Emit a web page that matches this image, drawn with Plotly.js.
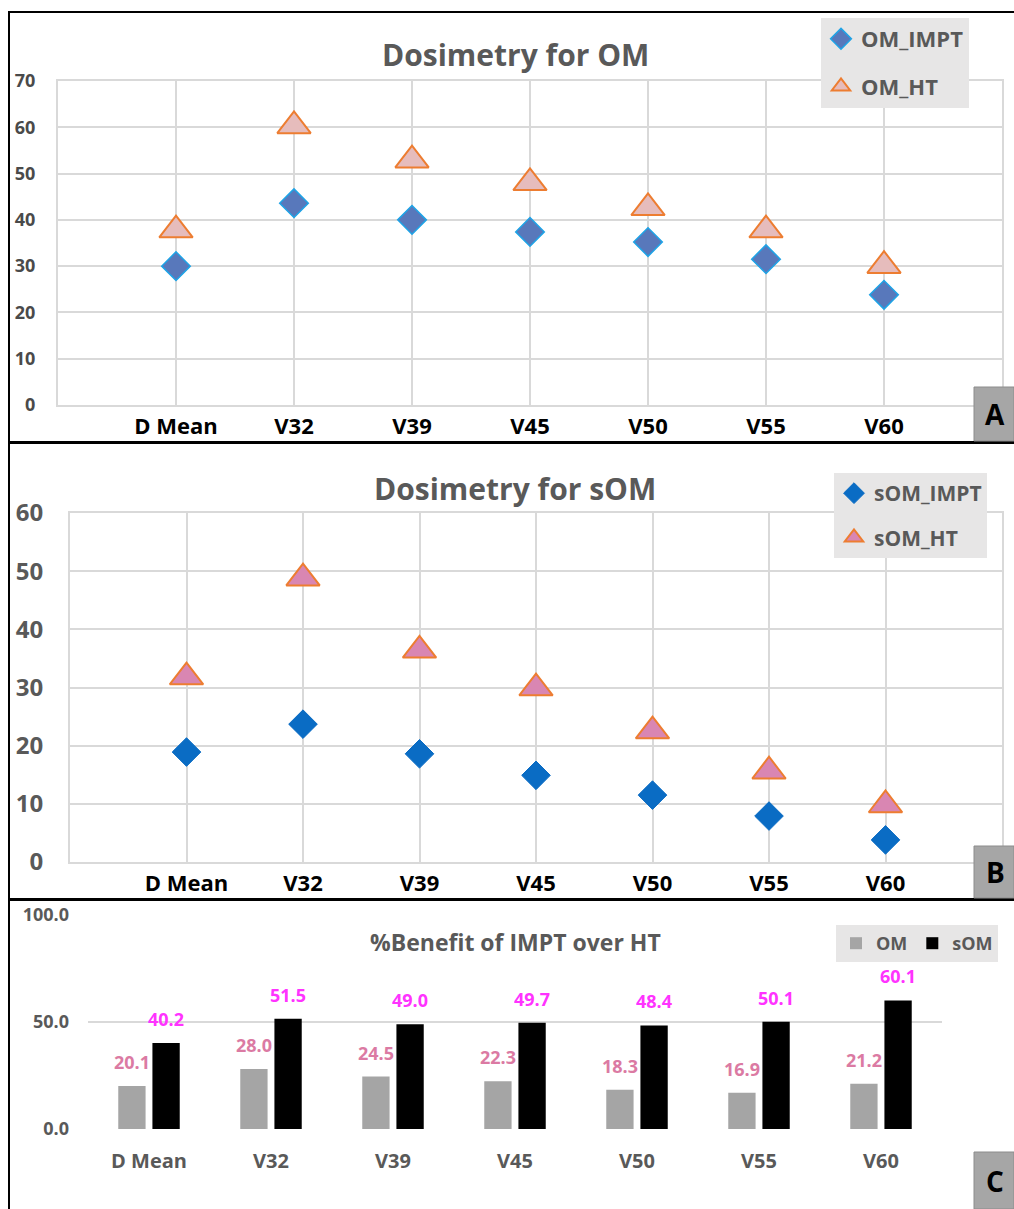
<!DOCTYPE html>
<html>
<head>
<meta charset="utf-8">
<script src="https://cdn.plot.ly/plotly-3.0.1.min.js"></script>
<style>html,body{margin:0;padding:0;background:#fff;}#chart{width:1014px;height:1209px;}</style>
</head>
<body>
<div id="chart"></div>
<script>
// ---- data ----
const categories = ['D Mean', 'V32', 'V39', 'V45', 'V50', 'V55', 'V60'];
const omImpt = [30.0, 43.6, 40.0, 37.4, 35.2, 31.5, 23.8];
const omHt = [37.8, 60.3, 52.9, 48.0, 42.6, 37.8, 30.1];
const somImpt = [18.9, 23.7, 18.6, 14.9, 11.5, 7.9, 3.8];
const somHt = [31.8, 48.8, 36.4, 29.9, 22.5, 15.6, 9.8];
const benefitOM = [20.1, 28.0, 24.5, 22.3, 18.3, 16.9, 21.2];
const benefitSOM = [40.2, 51.5, 49.0, 49.7, 48.4, 50.1, 60.1];
const titles = ['Dosimetry for OM', 'Dosimetry for sOM', '%Benefit of IMPT over HT'];
const panelLetters = ['A', 'B', 'C'];

// ---- helpers ----
const W = 1014, H = 1209;
const px = v => v / W;
const py = v => 1 - v / H;
const FONT = "'Open Sans', 'Noto Sans', sans-serif";
const GRID = '#d9d9d9';
const TXT = '#595959';

const traces = [
  {type: 'scatter', mode: 'markers', name: 'OM_IMPT', x: categories, y: omImpt,
   xaxis: 'x', yaxis: 'y', legend: 'legend', legendgroup: 'a1',
   marker: {symbol: 'diamond', size: 22, color: '#5878bb', line: {color: '#1ea3e6', width: 1.5}}},
  {type: 'scatter', mode: 'markers', name: 'OM_HT', x: categories, y: omHt,
   xaxis: 'x', yaxis: 'y', legend: 'legend', legendgroup: 'a2',
   marker: {symbol: 'triangle-up', size: 29, color: '#e6bcbc', line: {color: '#ed7d31', width: 2}}},
  {type: 'scatter', mode: 'markers', name: 'sOM_IMPT', x: categories, y: somImpt,
   xaxis: 'x2', yaxis: 'y2', legend: 'legend2', legendgroup: 'b1',
   marker: {symbol: 'diamond', size: 22, color: '#0a6cc4', line: {color: '#0a6cc4', width: 1}}},
  {type: 'scatter', mode: 'markers', name: 'sOM_HT', x: categories, y: somHt,
   xaxis: 'x2', yaxis: 'y2', legend: 'legend2', legendgroup: 'b2',
   marker: {symbol: 'triangle-up', size: 29, color: '#d986b2', line: {color: '#ed7d31', width: 2}}},
  {type: 'bar', name: 'OM', x: categories, y: benefitOM, xaxis: 'x3', yaxis: 'y3',
   legend: 'legend3', marker: {color: '#a5a5a5'}, hoverinfo: 'skip'},
  {type: 'bar', name: 'sOM', x: categories, y: benefitSOM, xaxis: 'x3', yaxis: 'y3',
   legend: 'legend3', marker: {color: '#000000'}, hoverinfo: 'skip'}
];

const scatterX = (dom, anchor) => ({
  domain: dom, anchor: anchor, type: 'category', range: [-1, 7], showgrid: true, gridcolor: GRID, gridwidth: 2,
  showline: true, mirror: true, linecolor: GRID, linewidth: 2, zeroline: false, ticks: '',
  ticklabelstandoff: 1,
  tickfont: {family: FONT, size: 22, color: '#000000', weight: 'bold'}, fixedrange: true
});

const layout = {
  width: W, height: H, margin: {l: 0, r: 0, t: 0, b: 0, autoexpand: false},
  paper_bgcolor: '#ffffff', plot_bgcolor: '#ffffff',
  font: {family: FONT, color: TXT},
  barmode: 'group', bargap: 0.44, bargroupgap: 0.2,
  showlegend: true,
  xaxis: scatterX([px(58), px(1002)], 'y'),
  yaxis: {domain: [py(405), py(81)], anchor: 'x', range: [0, 70], dtick: 10, showgrid: true, gridcolor: GRID, gridwidth: 2,
          showline: true, mirror: true, linecolor: GRID, linewidth: 2, zeroline: false,
          ticks: '', ticklabelstandoff: 17,
          tickfont: {family: FONT, size: 18, color: '#4a4a4a', weight: 'bold'}},
  xaxis2: scatterX([px(70), px(1002)], 'y2'),
  yaxis2: {domain: [py(862), py(513)], anchor: 'x2', range: [0, 60], dtick: 10, showgrid: true, gridcolor: GRID, gridwidth: 2,
           showline: true, mirror: true, linecolor: GRID, linewidth: 2, zeroline: false,
           ticks: '', ticklabelstandoff: 20,
           tickfont: {family: FONT, size: 24, color: TXT, weight: 'bold'}},
  xaxis3: {domain: [px(88), px(942)], anchor: 'y3', type: 'category', showgrid: false, showline: false, zeroline: false,
           ticks: '', ticklabelstandoff: 18,
           tickfont: {family: FONT, size: 20, color: TXT, weight: 'bold'}},
  yaxis3: {domain: [py(1129), py(915)], anchor: 'x3', range: [0, 100], tickvals: [0, 50, 100], tickformat: '.1f',
           showgrid: true, gridcolor: GRID, gridwidth: 2, zeroline: false, showline: false,
           ticks: '', ticklabelstandoff: 18,
           tickfont: {family: FONT, size: 18, color: TXT, weight: 'bold'}},
  legend: {x: px(821), y: py(18), xanchor: 'left', yanchor: 'top', bgcolor: '#e7e6e6',
           font: {family: FONT, size: 22, color: TXT, weight: 'bold'}, traceorder: 'grouped',
           tracegroupgap: 16, borderwidth: 0, itemwidth: 30},
  legend2: {x: px(834), y: py(473), xanchor: 'left', yanchor: 'top', bgcolor: '#e7e6e6',
            font: {family: FONT, size: 21, color: TXT, weight: 'bold'}, traceorder: 'grouped',
            tracegroupgap: 14, borderwidth: 0, itemwidth: 30},
  legend3: {x: px(836), y: py(925), xanchor: 'left', yanchor: 'top', bgcolor: '#e7e6e6', orientation: 'h',
            font: {family: FONT, size: 18, color: TXT, weight: 'bold'}, borderwidth: 0, itemwidth: 30},
  shapes: [],
  annotations: []
};

// titles
const titleY = [55, 488, 942];
const titleSize = [30, 30, 23];
titles.forEach((t, i) => {
  layout.annotations.push({xref: 'paper', yref: 'paper', x: px(515), y: py(titleY[i]), text: '<b>' + t + '</b>',
    showarrow: false, xanchor: 'center', yanchor: 'middle', font: {family: FONT, size: titleSize[i], color: TXT}});
});

// data labels for panel C
categories.forEach((c, i) => {
  layout.annotations.push({xref: 'x3', yref: 'y3', x: c, y: benefitOM[i], text: '<b>' + benefitOM[i].toFixed(1) + '</b>',
    showarrow: false, xanchor: 'center', yanchor: 'bottom', xshift: -17, yshift: 10,
    font: {family: FONT, size: 18, color: '#db7aa3'}});
  layout.annotations.push({xref: 'x3', yref: 'y3', x: c, y: benefitSOM[i], text: '<b>' + benefitSOM[i].toFixed(1) + '</b>',
    showarrow: false, xanchor: 'center', yanchor: 'bottom', xshift: 17, yshift: 10,
    font: {family: FONT, size: 18, color: '#ff33ff'}});
});

// panel borders
layout.shapes.push({type: 'line', xref: 'paper', yref: 'paper', x0: px(8), x1: 1, y0: py(12), y1: py(12), line: {color: '#000', width: 2}});
layout.shapes.push({type: 'line', xref: 'paper', yref: 'paper', x0: px(9), x1: px(9), y0: py(12), y1: 0, line: {color: '#000', width: 2}});
layout.shapes.push({type: 'line', xref: 'paper', yref: 'paper', x0: px(8), x1: 1, y0: py(442.5), y1: py(442.5), line: {color: '#000', width: 3}});
layout.shapes.push({type: 'line', xref: 'paper', yref: 'paper', x0: px(8), x1: 1, y0: py(899.5), y1: py(899.5), line: {color: '#000', width: 3}});

// panel letter boxes
const boxes = [[387, 441], [846, 898], [1152, 1209]];
boxes.forEach((b, i) => {
  layout.shapes.push({type: 'rect', xref: 'paper', yref: 'paper', x0: px(974), x1: 1, y0: py(b[1]), y1: py(b[0]),
    fillcolor: '#a6a6a6', line: {color: '#8c8c8c', width: 1}});
  layout.annotations.push({xref: 'paper', yref: 'paper', x: px(995), y: py((b[0] + b[1]) / 2), text: '<b>' + panelLetters[i] + '</b>',
    showarrow: false, xanchor: 'center', yanchor: 'middle', font: {family: FONT, size: 28, color: '#000'}});
});

Plotly.newPlot('chart', traces, layout, {displayModeBar: false, staticPlot: true});
</script>
</body>
</html>
